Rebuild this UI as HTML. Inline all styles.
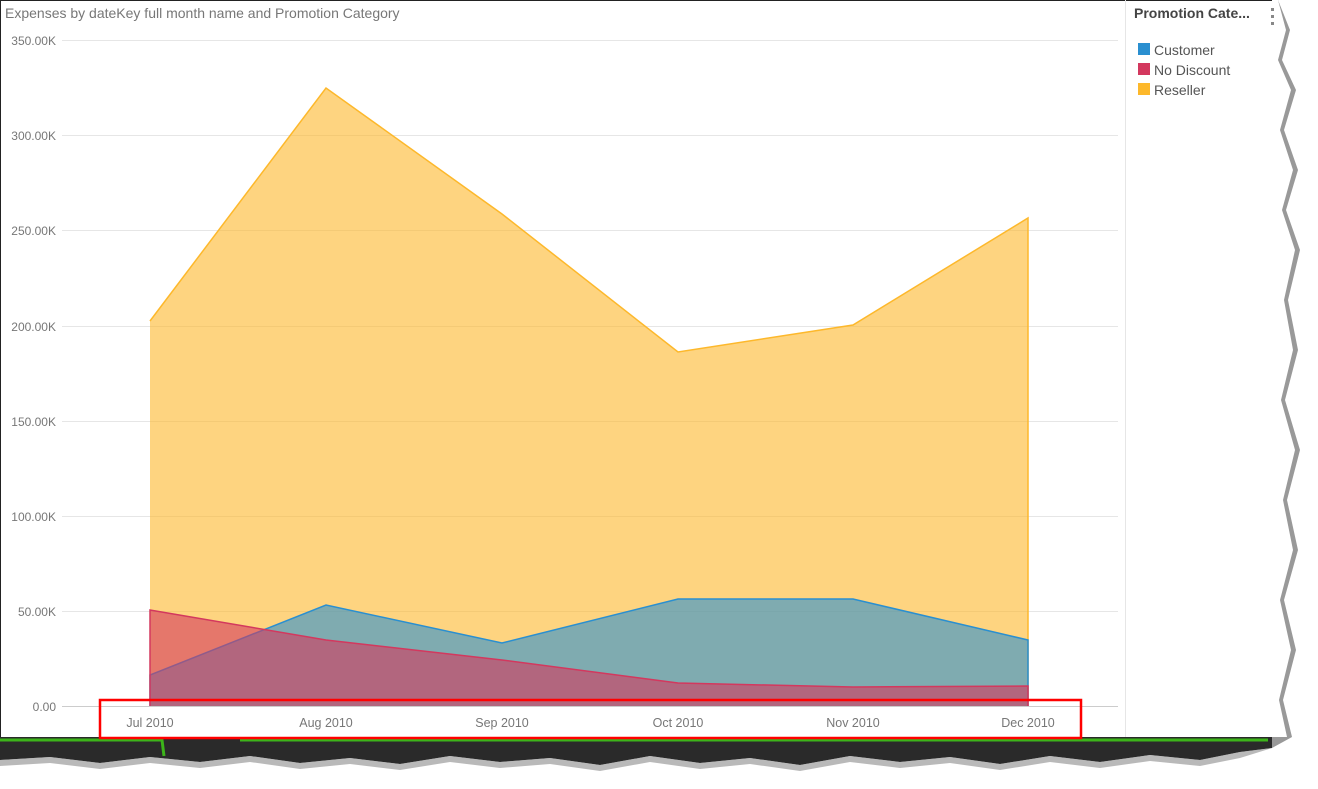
<!DOCTYPE html>
<html><head><meta charset="utf-8"><style>
body{margin:0;width:1318px;height:784px;background:#fff;overflow:hidden;font-family:"Liberation Sans",sans-serif}
</style></head><body>
<svg width="1318" height="784" viewBox="0 0 1318 784" xmlns="http://www.w3.org/2000/svg" font-family="Liberation Sans, sans-serif">
<rect x="0" y="0" width="1318" height="784" fill="#fff"/>
<polygon points="0,737 1272,737 1272,748 1240,752 1200,760 1150,755 1100,762 1050,756 1000,764 950,757 900,762 850,756 800,765 750,758 700,763 650,756 600,765 550,758 500,762 450,756 400,764 350,758 300,763 250,756 200,762 150,757 100,763 50,757 0,760" fill="#2a2a2a"/>
<polyline points="0,740 162,740 164,756" fill="none" stroke="#3cb41a" stroke-width="3"/>
<line x1="240" y1="740" x2="1268" y2="740" stroke="#3cb41a" stroke-width="3"/>
<polygon points="0,760 50,757 100,763 150,757 200,762 250,756 300,763 350,758 400,764 450,756 500,762 550,758 600,765 650,756 700,763 750,758 800,765 850,756 900,762 950,757 1000,764 1050,756 1100,762 1150,755 1200,760 1240,752 1272,748 1240,758 1200,766 1150,761 1100,768 1050,762 1000,770 950,763 900,768 850,762 800,771 750,764 700,769 650,762 600,771 550,764 500,768 450,762 400,770 350,764 300,769 250,762 200,768 150,763 100,769 50,763 0,766" fill="#8a8a8a" opacity="0.6"/>
<polygon points="1278,0 1290,30 1282,60 1296,90 1284,130 1298,170 1286,210 1300,250 1288,300 1298,350 1285,400 1300,450 1287,500 1298,550 1284,600 1296,650 1283,700 1292,737 1272,748 1272,0" fill="#999"/>
<polygon points="1270,0 1278,0 1286,30 1278,60 1291,90 1280,130 1293,170 1282,210 1295,250 1284,300 1293,350 1281,400 1295,450 1283,500 1293,550 1280,600 1291,650 1279,700 1287,737 1270,737" fill="#fff"/>
<line x1="0.5" y1="0" x2="0.5" y2="737" stroke="#222"/>
<line x1="0" y1="0.5" x2="1272" y2="0.5" stroke="#222"/>
<text x="5" y="18" font-size="14" fill="#777">Expenses by dateKey full month name and Promotion Category</text>
<g stroke="#e6e6e6" stroke-width="1">
<line x1="62" y1="40.5" x2="1118" y2="40.5"/><line x1="62" y1="135.5" x2="1118" y2="135.5"/>
<line x1="62" y1="230.5" x2="1118" y2="230.5"/><line x1="62" y1="326.5" x2="1118" y2="326.5"/>
<line x1="62" y1="421.5" x2="1118" y2="421.5"/><line x1="62" y1="516.5" x2="1118" y2="516.5"/>
<line x1="62" y1="611.5" x2="1118" y2="611.5"/>
</g>
<line x1="62" y1="706.5" x2="1118" y2="706.5" stroke="#ccc"/>
<line x1="1125.5" y1="0" x2="1125.5" y2="737" stroke="#e6e6e6"/>
<g font-size="12" fill="#777" text-anchor="end">
<text x="56" y="45">350.00K</text><text x="56" y="140">300.00K</text><text x="56" y="235">250.00K</text>
<text x="56" y="331">200.00K</text><text x="56" y="426">150.00K</text><text x="56" y="521">100.00K</text>
<text x="56" y="616">50.00K</text><text x="56" y="711">0.00</text>
</g>
<polygon points="150,706 150,321 326,88 502,214 678,352 853,325 1028,218 1028,706" fill="#FDB82B" fill-opacity="0.6"/>
<polyline points="150,321 326,88 502,214 678,352 853,325 1028,218 1028,706" fill="none" stroke="#FDB82B" stroke-width="1.5"/>
<polygon points="150,706 150,675 326,605 502,643 678,599 853,599 1028,640 1028,706" fill="#2A8FD0" fill-opacity="0.6"/>
<polyline points="150,706 150,675 326,605 502,643 678,599 853,599 1028,640 1028,706" fill="none" stroke="#2A8FD0" stroke-width="1.5"/>
<polygon points="150,706 150,610 326,640 502,660 678,683 853,687 1028,686 1028,706" fill="#D3385E" fill-opacity="0.6"/>
<polyline points="150,706 150,610 326,640 502,660 678,683 853,687 1028,686 1028,706" fill="none" stroke="#D3385E" stroke-width="1.5"/>
<g font-size="12.5" fill="#777" text-anchor="middle">
<text x="150" y="727">Jul 2010</text><text x="326" y="727">Aug 2010</text><text x="502" y="727">Sep 2010</text>
<text x="678" y="727">Oct 2010</text><text x="853" y="727">Nov 2010</text><text x="1028" y="727">Dec 2010</text>
</g>
<rect x="100" y="700" width="981" height="38" fill="none" stroke="#f00" stroke-width="2.5"/>
<text x="1134" y="18" font-size="14" font-weight="bold" fill="#444">Promotion Cate...</text>
<g fill="#888"><rect x="1271" y="8" width="3" height="3"/><rect x="1271" y="15" width="3" height="3"/><rect x="1271" y="22" width="3" height="3"/></g>
<rect x="1138" y="43" width="12" height="12" fill="#2A8FD0"/>
<rect x="1138" y="63" width="12" height="12" fill="#D3385E"/>
<rect x="1138" y="83" width="12" height="12" fill="#FDB82B"/>
<g font-size="14" fill="#555">
<text x="1154" y="55">Customer</text><text x="1154" y="75">No Discount</text><text x="1154" y="95">Reseller</text>
</g>
</svg>
</body></html>
